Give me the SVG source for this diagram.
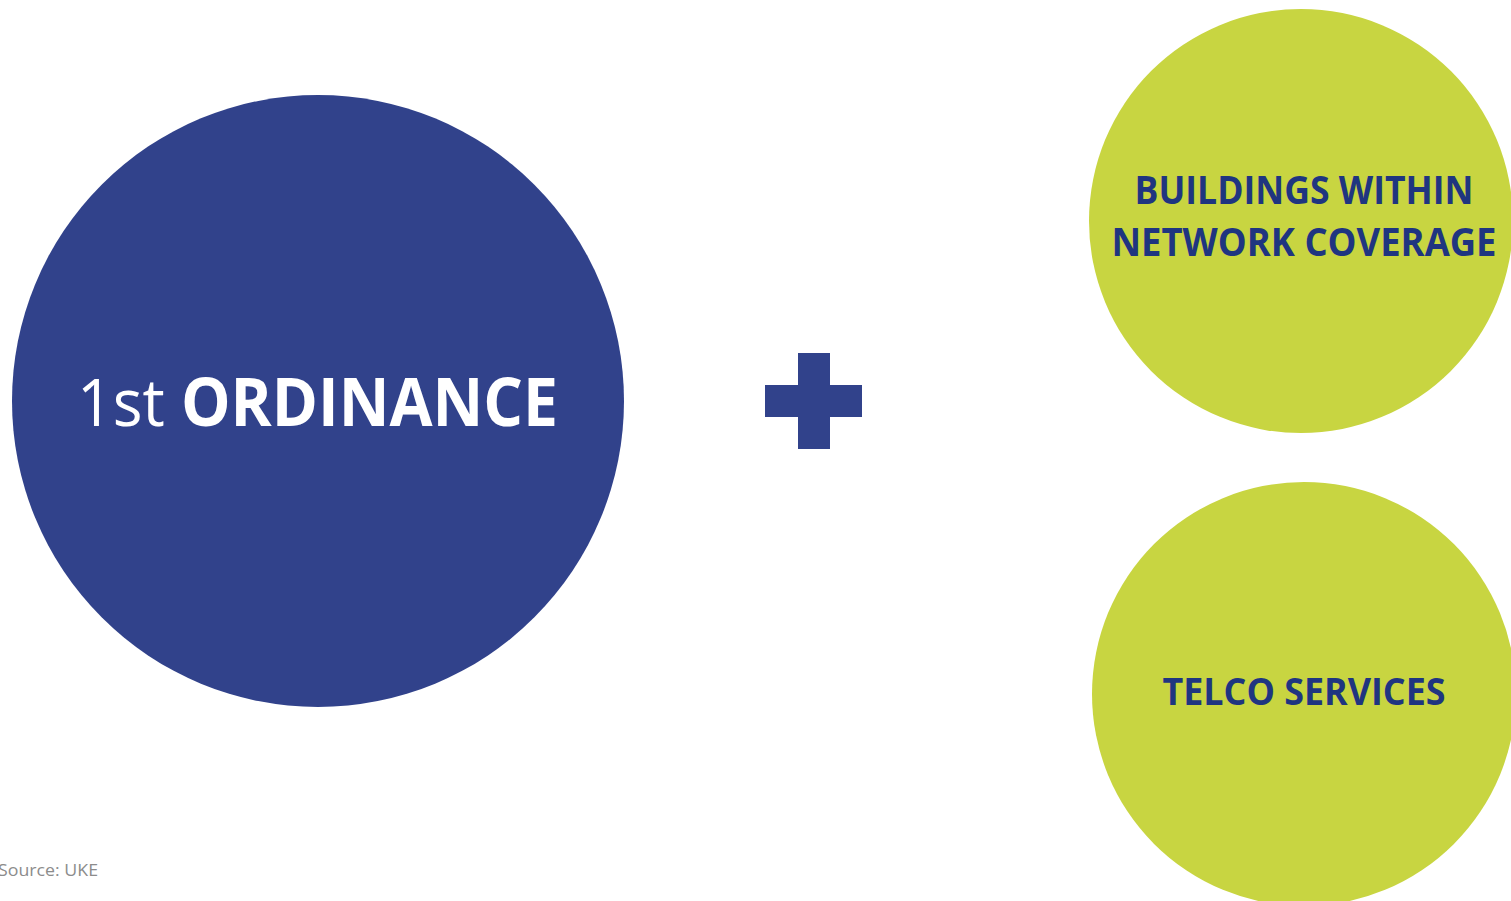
<svg xmlns="http://www.w3.org/2000/svg" width="1511" height="901" viewBox="0 0 1511 901">
<style>
.blue{fill:#31428B}
.green{fill:#C8D541}
.lbl{font-family:"Open Sans","Liberation Sans",sans-serif;font-weight:bold;fill:#1F3580;text-anchor:middle}
.main{font-family:"Open Sans","Liberation Sans",sans-serif;fill:#FFFFFF}
.src{font-family:"Open Sans","Liberation Sans",sans-serif;fill:#8C8C8C;font-size:17px}
</style>
<rect width="1511" height="901" fill="#FFFFFF"/>
<g id="ordinance">
<circle class="blue" cx="318" cy="401" r="306"/>
<text class="main" x="77" y="426" font-size="66" textLength="481" lengthAdjust="spacingAndGlyphs"><tspan>1st </tspan><tspan font-weight="bold">ORDINANCE</tspan></text>
</g>
<g id="plus">
<rect class="blue" x="765" y="385" width="97" height="32"/>
<rect class="blue" x="798" y="353" width="32" height="96"/>
</g>
<g id="buildings">
<circle class="green" cx="1301" cy="221" r="212"/>
<text class="lbl" x="1304" y="204" font-size="40" textLength="339" lengthAdjust="spacingAndGlyphs">BUILDINGS WITHIN</text>
<text class="lbl" x="1304" y="256" font-size="40" textLength="385" lengthAdjust="spacingAndGlyphs">NETWORK COVERAGE</text>
</g>
<g id="telco">
<circle class="green" cx="1304" cy="694" r="212"/>
<text class="lbl" x="1304" y="705" font-size="38" textLength="283" lengthAdjust="spacingAndGlyphs">TELCO SERVICES</text>
</g>
<g id="connectors"></g>
<text class="src" x="-2" y="876" textLength="100" lengthAdjust="spacingAndGlyphs">Source: UKE</text>
</svg>
